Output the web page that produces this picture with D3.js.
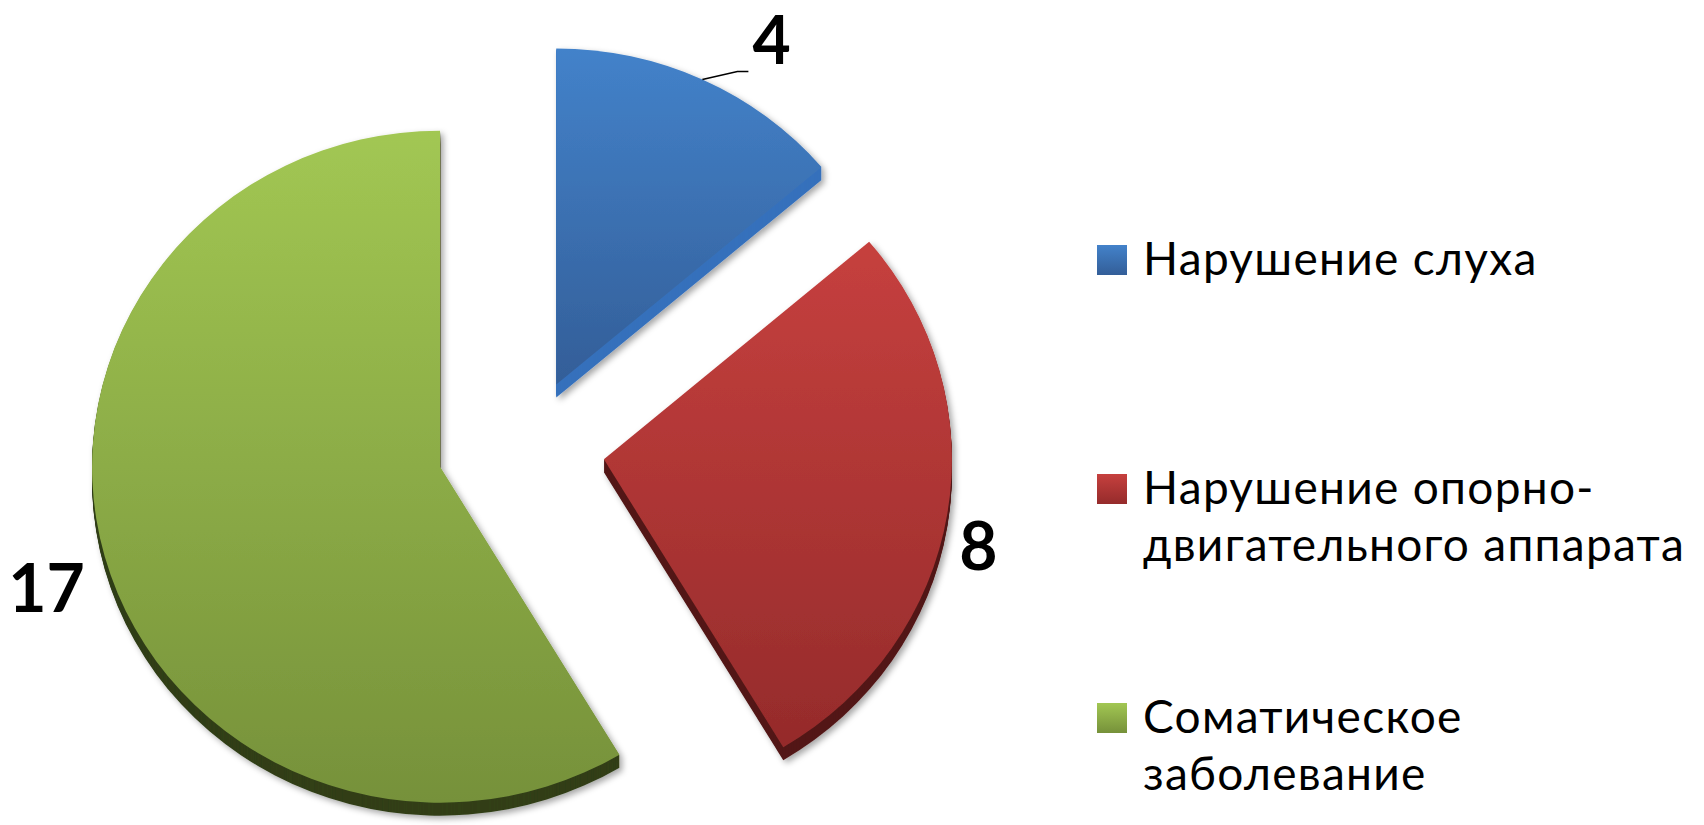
<!DOCTYPE html>
<html>
<head>
<meta charset="utf-8">
<script src="https://cdn.jsdelivr.net/npm/d3@7"></script>
<style>
  body { margin: 0; background: #fff; }
  svg { display: block; }
  text { font-family: Lato, "Open Sans", sans-serif; }
</style>
</head>
<body>
<div id="chart"></div>
<script>
"use strict";

// data
var categories = ["Нарушение слуха", "Нарушение опорно-двигательного аппарата", "Соматическое заболевание"];
var values = [4, 8, 17];
var topColors = ["#4382CA", "#C6403E", "#A2C753"];
var bottomColors = ["#335E98", "#952B2B", "#76913A"];
var sideColors = ["#3671BC", "#531918", "#313F18"];

var width = 1704, height = 825;
var cx = 521, cy = 448;        // pie centre before explosion
var r = 348, k = 336 / 348;    // radius and vertical squash
var explode = 84, explodeY = 70;
var depth = 13;

var svg = d3.select("#chart")
    .append("svg")
    .attr("width", width)
    .attr("height", height);

var defs = svg.append("defs");

defs.append("filter")
    .attr("id", "shadow")
    .attr("x", "-10%").attr("y", "-10%")
    .attr("width", "120%").attr("height", "120%")
    .append("feDropShadow")
    .attr("dx", 3).attr("dy", 3)
    .attr("stdDeviation", 3)
    .attr("flood-color", "#000")
    .attr("flood-opacity", 0.35);

categories.forEach(function(c, i) {
    var g = defs.append("linearGradient")
        .attr("id", "grad" + i)
        .attr("x1", 0).attr("y1", 0)
        .attr("x2", 0).attr("y2", 1);
    g.append("stop").attr("offset", "0%").attr("stop-color", topColors[i]);
    g.append("stop").attr("offset", "100%").attr("stop-color", bottomColors[i]);
});

var pie = d3.pie().sort(null).value(d => d)
    .startAngle(0).endAngle(2 * Math.PI);
var arcs = pie(values);

var arc = d3.arc().innerRadius(0).outerRadius(r);

function mid(d) { return (d.startAngle + d.endAngle) / 2; }

var slices = svg.selectAll(".slice")
    .data(arcs)
    .enter()
    .append("g")
    .attr("class", "slice")
    .attr("filter", "url(#shadow)")
    .attr("transform", function(d) {
        var a = mid(d);
        return "translate(" + (cx + explode * Math.sin(a)) + "," + (cy - explodeY * Math.cos(a)) + ")";
    });

// side (thickness): stacked copies shifted down
var steps = d3.range(depth, 0, -1);
slices.each(function(d, i) {
    var s = d3.select(this);
    steps.forEach(function(t) {
        s.append("path")
            .attr("transform", "translate(0," + t + ") scale(1," + k + ")")
            .attr("d", arc(d))
            .attr("fill", sideColors[i]);
    });
});

// top face
slices.append("path")
    .attr("transform", "scale(1," + k + ")")
    .attr("d", d => arc(d))
    .attr("fill", (d, i) => "url(#grad" + i + ")");

// data labels
function edgePoint(d, rr) {
    var a = mid(d);
    return [cx + explode * Math.sin(a) + rr * Math.sin(a),
            cy - explodeY * Math.cos(a) - rr * k * Math.cos(a)];
}

var labels = svg.append("g").attr("class", "labels");
arcs.forEach(function(d, i) {
    var p = edgePoint(d, r);
    var tx, ty, anchor = "start";
    if (i === 0) {
        labels.append("polyline")
            .attr("points", [p, [p[0] + 35, p[1] - 8], [p[0] + 46, p[1] - 8]].map(q => q.join(",")).join(" "))
            .attr("fill", "none")
            .attr("stroke", "#000")
            .attr("stroke-width", 1.5);
        tx = p[0] + 50; ty = p[1] - 16;
    } else if (p[0] > cx) {
        tx = p[0] + 12; ty = p[1] + 56;
    } else {
        tx = p[0] - 20; ty = p[1] + 55; anchor = "end";
    }
    labels.append("text")
        .attr("x", tx).attr("y", ty)
        .attr("text-anchor", anchor)
        .attr("font-size", 66)
        .attr("font-weight", "bold")
        .attr("fill", "#000")
        .text(values[i]);
});

// legend
var legendX = 1097, legendY = 275, legendStep = 229, lineH = 57, maxW = 590;
var legend = svg.append("g").attr("class", "legend");

categories.forEach(function(c, i) {
    var y = legendY + i * legendStep;
    legend.append("rect")
        .attr("x", legendX).attr("y", y - 30)
        .attr("width", 30).attr("height", 30)
        .attr("fill", "url(#grad" + i + ")");

    var t = legend.append("text")
        .attr("x", legendX + 46).attr("y", y)
        .attr("font-size", 46)
        .attr("letter-spacing", 1.3)
        .attr("fill", "#000");

    // wrap on spaces and after hyphens
    var tokens = c.match(/[^\s-]+-?\s*/g);
    var lines = [], cur = "";
    tokens.forEach(function(tok) {
        var test = cur + tok;
        t.text(test.trim());
        if (cur && t.node().getComputedTextLength() > maxW) {
            lines.push(cur.trim());
            cur = tok;
        } else {
            cur = test;
        }
    });
    lines.push(cur.trim());
    t.text(null);
    lines.forEach(function(l, j) {
        t.append("tspan")
            .attr("x", legendX + 46)
            .attr("dy", j ? lineH : 0)
            .text(l);
    });
});
</script>
</body>
</html>
